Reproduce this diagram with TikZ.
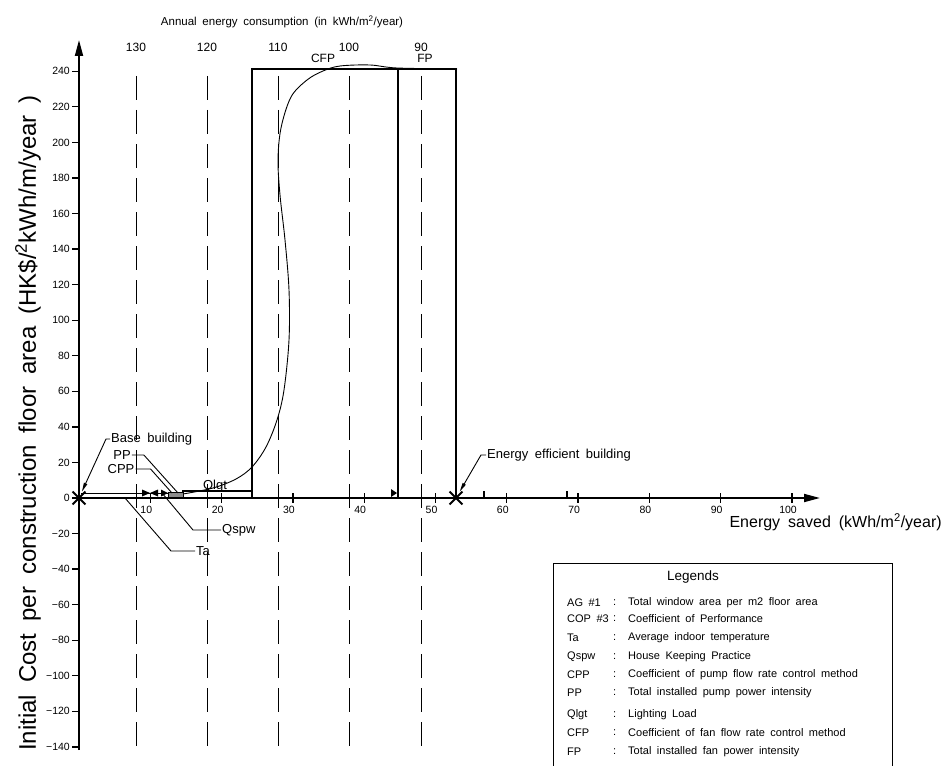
\documentclass[tikz,border=0pt]{standalone}
\usepackage{fontspec}
\setmainfont{Liberation Sans}[WordSpace=1.8]
\usetikzlibrary{arrows.meta,shapes.misc}

\tikzset{
  axisline/.style={line width=1.8pt},
  tickline/.style={line width=1.3pt},
  blockline/.style={line width=2.4pt},
  guide/.style={line width=0.8pt, dash pattern=on 24pt off 10pt},
  leader/.style={line width=0.9pt},
  pointer/.style={leader, -{Triangle[length=9pt,width=3.5pt]}},
  lbl/.style={inner sep=1pt, font=\fontsize{13}{15}\selectfont},
  ticklbl/.style={inner sep=1pt, font=\fontsize{10.5}{12}\selectfont},
  legtxt/.style={anchor=west, inner sep=0pt, font=\fontsize{11}{13}\selectfont},
  xmark/.style={cross out, draw, line width=1.8pt, minimum size=11pt, inner sep=0pt},
}

\begin{document}
\begin{tikzpicture}[x=1pt,y=-1pt]
  \useasboundingbox (0,0) rectangle (944,765);

  % Axes
  \coordinate (O) at (79,498);
  \coordinate (Ybot) at (79,750);
  \coordinate (Ytop) at (79,40);
  \coordinate (Xend) at (820,498);
  \draw[axisline,-{Triangle[length=16pt,width=8pt]}] (Ybot) -- (Ytop);
  \draw[axisline,-{Triangle[length=16pt,width=8pt]}] (O) -- (Xend);

  % y ticks (20 units = 35.56pt)
  \foreach \v in {-140,-120,...,240}{
    \draw[tickline] (72,{498-1.778*(\v)}) -- (79,{498-1.778*(\v)});
    \node[ticklbl,anchor=east] (ylab\v) at (71,{498-1.778*(\v)}) {\ifnum\v<0 −\the\numexpr-\v\relax\else\v\fi};
  }

  % x ticks (10 units = 71.3pt)
  \foreach \i in {1,...,10}{
    \draw[tickline] ({79+71.3*\i},493) -- ({79+71.3*\i},503);
    \node[ticklbl] (xlab\i) at ({75+71.3*\i},510) {\the\numexpr10*\i\relax};
  }
  \draw[tickline] (484,491) -- (484,498);
  \draw[tickline] (567,491) -- (567,498);

  % consumption guides
  \foreach \c/\gx in {130/136,120/207,110/278,100/349,90/421}{
    \draw[guide] (\gx,76) -- (\gx,752);
    \node[lbl,font=\fontsize{12}{14}\selectfont] (kwh\c) at (\gx,47) {\c};
  }
  \node[font=\fontsize{11.5}{13}\selectfont] (annual) at (282,22) {Annual energy consumption (in kWh/m\textsuperscript{2}/year)};

  % CFP / FP blocks
  \draw[blockline] (252,498) |- (456,69) -- (456,498);
  \draw[blockline] (398,69) -- (398,498);
  \node[lbl,font=\fontsize{12}{14}\selectfont] (CFP) at (323,58) {CFP};
  \node[lbl,font=\fontsize{12}{14}\selectfont] (FP) at (425,58) {FP};
  \fill (391,489) -- (397,493) -- (391,497) -- cycle;

  % small measures along the axis
  \draw[leader] (81,493) -- (168,493);
  \draw[line width=1.4pt] (183,498) -- (183,491) -- (252,491);
  \draw[line width=1pt, fill=black!45] (168,492) rectangle (183,497);
  \fill (142,489.5) -- (150,493) -- (142,496.5) -- cycle;
  \fill (158,489.5) -- (150,493) -- (158,496.5) -- cycle;
  \fill (161,489.5) -- (168,493) -- (161,496.5) -- cycle;

  % cost curve
  \draw[leader] plot[smooth,tension=0.55] coordinates {(183,494) (213,488) (236,479) (252,467) (266,447) (277,420) (284,390) (289,340) (289,290) (285,240) (280,195) (278,160) (281,128) (291,97) (307,80) (323,71) (340,66) (370,65) (397,68) (457,69)};

  % annotations
  \node[xmark] (Xbase) at (O) {};
  \node[xmark] (Xeff) at (456,498) {};
  \node[lbl,anchor=west] (base) at (110,439) {Base building};
  \draw[pointer] (base.west) -- ++(-4,0) -- (Xbase);
  \node[lbl] (PP) at (122,455) {PP};
  \coordinate (PPend) at (178,493);
  \draw[leader] (PP.east) -- ++(12,0) -- (PPend);
  \node[lbl] (CPP) at (121,469) {CPP};
  \coordinate (CPPend) at (172,493);
  \draw[leader] (CPP.east) -- ++(15,0) -- (CPPend);
  \node[lbl,anchor=base] (Qlgt) at (215,489) {Qlgt};
  \node[lbl,anchor=west] (Qspw) at (221,530) {Qspw};
  \coordinate (Qspwend) at (162,493);
  \draw[leader] (Qspw.west) -- ++(-28,0) -- (Qspwend);
  \node[lbl,anchor=west] (Ta) at (195,551) {Ta};
  \coordinate (Taend) at (125,498);
  \draw[leader] (Ta.west) -- ++(-24,0) -- (Taend);
  \node[lbl,anchor=west] (eff) at (486,455) {Energy efficient building};
  \draw[pointer] (eff.west) -- ++(-5,0) -- (Xeff);

  % axis titles
  \node[font=\fontsize{16}{18}\selectfont,anchor=west] (xtitle) at (726,522) {Energy saved (kWh/m\textsuperscript{2}/year)};
  \node[font=\fontsize{24}{27}\selectfont,rotate=90] (ytitle) at (28,423) {Initial Cost per construction floor area (HK\$/\textsuperscript{2}kWh/m/year )};

  % Legends
  \draw[line width=1pt] (553,768) |- (892,563) -- (892,768);
  \node[font=\fontsize{13.5}{15}\selectfont] (leghead) at (693,577) {Legends};
  \foreach \k/\d/\ly [count=\n] in {
      AG \#1/Total window area per m2 floor area/603,
      COP \#3/Coefficient of Performance/619,
      Ta/Average indoor temperature/638,
      Qspw/House Keeping Practice/657,
      CPP/Coefficient of pump flow rate control method/675,
      PP/Total installed pump power intensity/693,
      Qlgt/Lighting Load/715,
      CFP/Coefficient of fan flow rate control method/733,
      FP/Total installed fan power intensity/752}{
    \node[legtxt] (key\n) at (567,\ly) {\k};
    \node[legtxt] (col\n) at (613,\ly) {:};
    \node[legtxt] (desc\n) at (628,\ly) {\d};
  }
\end{tikzpicture}
\end{document}
